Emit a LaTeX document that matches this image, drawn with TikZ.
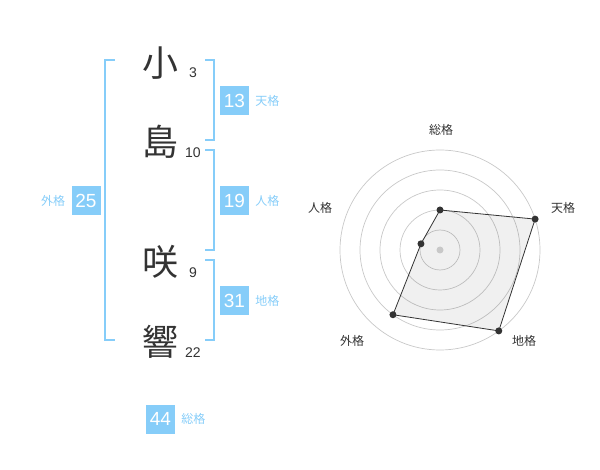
\documentclass[tikz,border=0pt]{standalone}
\usepackage{fontspec}
\setmainfont{Liberation Sans}
\newfontfamily\jp{Noto Sans CJK JP}
\usetikzlibrary{positioning}
\definecolor{kakublue}{HTML}{86CDF9}
\definecolor{ink}{HTML}{333333}
\definecolor{ring}{HTML}{C8C8C8}

\tikzset{
  moji/.style={text=ink, font=\jp\fontsize{36}{36}\selectfont, inner sep=0pt},
  kakusu/.style={text=ink, font=\fontsize{14}{14}\selectfont, inner sep=0pt},
  kakubox/.style={fill=kakublue, text=white, minimum width=29pt, minimum height=29pt,
    inner sep=0pt, font=\fontsize{19}{19}\selectfont},
  kakuname/.style={text=kakublue, font=\jp\fontsize{12}{12}\selectfont, inner sep=0pt},
  bracket/.style={draw=kakublue, line width=1.6pt},
  axisname/.style={text=ink, font=\jp\fontsize{12}{12}\selectfont, inner sep=0pt},
  dot/.style={circle, fill=ink, minimum size=7pt, inner sep=0pt}
}

\begin{document}
\begin{tikzpicture}[x=1pt,y=-1pt]
      \useasboundingbox (0,0) rectangle (600,470);

      % name
      \node[moji] (sho)   at (160,63)  {小};
      \node[moji] (shima) at (160,142) {島};
      \node[moji] (saki)  at (160,262) {咲};
      \node[moji] (hibiki) at (160,342) {響};

      \node[kakusu] (n1) at (193,73)  {3};
      \node[kakusu] (n2) at (193,153) {10};
      \node[kakusu] (n3) at (193,273) {9};
      \node[kakusu] (n4) at (193,353) {22};

      % brackets
      \draw[bracket] (115,60) -- (105,60) -- (105,340) -- (115,340);
      \draw[bracket] (205,60) -- (214,60) -- (214,140) -- (205,140);
      \draw[bracket] (205,150) -- (214,150) -- (214,250) -- (205,250);
      \draw[bracket] (205,260) -- (214,260) -- (214,340) -- (205,340);

      % boxes
      \node[kakubox] (ten)  at (234.5,100.5) {13};
      \node[kakubox] (jin)  at (234.5,200.5) {19};
      \node[kakubox] (chi)  at (234.5,300.5) {31};
      \node[kakubox] (gai)  at (86,200.5)    {25};
      \node[kakubox] (sou)  at (160.5,419)   {44};

      \node[kakuname, right=6pt of ten] (lten) {天格};
      \node[kakuname, right=6pt of jin] (ljin) {人格};
      \node[kakuname, right=6pt of chi] (lchi) {地格};
      \node[kakuname, left=6pt of gai]  (lgai) {外格};
      \node[kakuname, right=6pt of sou] (lsou) {総格};

      % radar
      \begin{scope}[shift={(440,250)}]
        \foreach \r in {20,40,60,80,100}
          \draw[ring, line width=0.7pt] (0,0) circle (\r);

        \coordinate (psou) at (-90:40);
        \coordinate (pten) at (-18:100);
        \coordinate (pchi) at (54:100);
        \coordinate (pgai) at (126:80);
        \coordinate (pjin) at (198:20);

        \fill[black, fill opacity=0.06] (psou) -- (pten) -- (pchi) -- (pgai) -- (pjin) -- cycle;
        \fill[ring] (0,0) circle (3.5);
        \draw[ink, line width=0.8pt] (psou) -- (pten) -- (pchi) -- (pgai) -- (pjin) -- cycle;

        \node[dot] at (psou) {};
        \node[dot] at (pten) {};
        \node[dot] at (pchi) {};
        \node[dot] at (pgai) {};
        \node[dot] at (pjin) {};
      \end{scope}

      \node[axisname] (asou) at (441,130) {総格};
      \node[axisname] (aten) at (563,208) {天格};
      \node[axisname] (achi) at (524,341) {地格};
      \node[axisname] (agai) at (352,341) {外格};
      \node[axisname] (ajin) at (320,208) {人格};

\end{tikzpicture}
\end{document}
